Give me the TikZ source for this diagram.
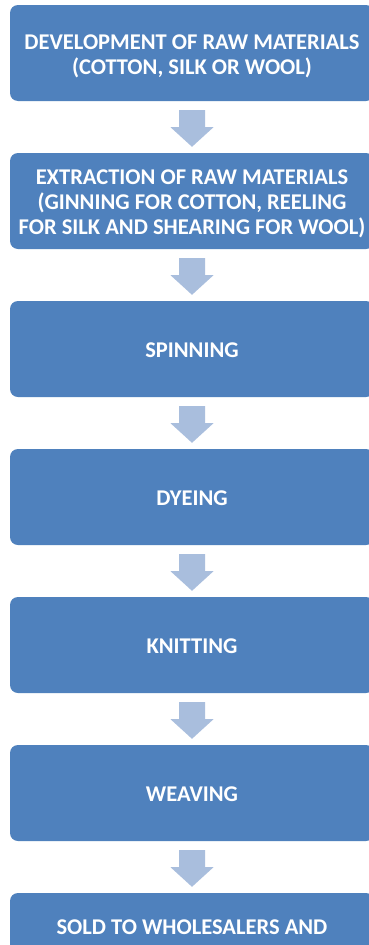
\documentclass[tikz,border=0pt]{standalone}
\usepackage{fontspec}
\setmainfont{Carlito}
\usetikzlibrary{calc}
\definecolor{boxblue}{HTML}{4F81BD}
\definecolor{arrowblue}{HTML}{A9BEDD}
\tikzset{
  stepbox/.style={fill=boxblue, draw=none, rounded corners=8pt,
    minimum width=364pt, minimum height=96pt, inner sep=0pt},
  steptext/.style={text=white, font=\fontsize{22.5}{25}\selectfont\bfseries,
    align=center, inner sep=0pt},
  flow/.style={fill=arrowblue, draw=none}
}
% block arrow from the bottom of one box to the top of the next
\newcommand{\flowarrow}[2]{%
  \fill[flow] ($(#1.south)+(-13,9)$) -- ($(#1.south)+(13,9)$)
    -- ($(#1.south)+(13,26)$) -- ($(#1.south)+(21.5,26)$)
    -- ($(#2.north)+(0,-6)$)
    -- ($(#1.south)+(-21.5,26)$) -- ($(#1.south)+(-13,26)$) -- cycle;}
\begin{document}
\begin{tikzpicture}[x=1pt,y=-1pt]
\useasboundingbox (0,0) rectangle (369,945);
\clip (0,0) rectangle (369,945);
\fill[white] (0,0) rectangle (369,945);

\node[stepbox] (b1) at (192,53) {};
\node[stepbox] (b2) at (192,201) {};
\node[stepbox] (b3) at (192,349) {};
\node[stepbox] (b4) at (192,497) {};
\node[stepbox] (b5) at (192,645) {};
\node[stepbox] (b6) at (192,793) {};
\node[stepbox] (b7) at (192,941) {};

\node[steptext] (t1) at ($(b1.center)+(0,3)$) {DEVELOPMENT OF RAW MATERIALS\\(COTTON, SILK OR WOOL)};
\node[steptext] (t2) at ($(b2.center)+(0,3)$) {EXTRACTION OF RAW MATERIALS\\(GINNING FOR COTTON, REELING\\FOR SILK AND SHEARING FOR WOOL)};
\node[steptext] (t3) at ($(b3.center)+(0,1)$) {SPINNING};
\node[steptext] (t4) at ($(b4.center)+(0,1)$) {DYEING};
\node[steptext] (t5) at ($(b5.center)+(0,1)$) {KNITTING};
\node[steptext] (t6) at ($(b6.center)+(0,1)$) {WEAVING};
\node[steptext, anchor=base] (t7) at ($(b7.north)+(0,42)$) {SOLD TO WHOLESALERS AND};

\flowarrow{b1}{b2}
\flowarrow{b2}{b3}
\flowarrow{b3}{b4}
\flowarrow{b4}{b5}
\flowarrow{b5}{b6}
\flowarrow{b6}{b7}
\end{tikzpicture}
\end{document}
